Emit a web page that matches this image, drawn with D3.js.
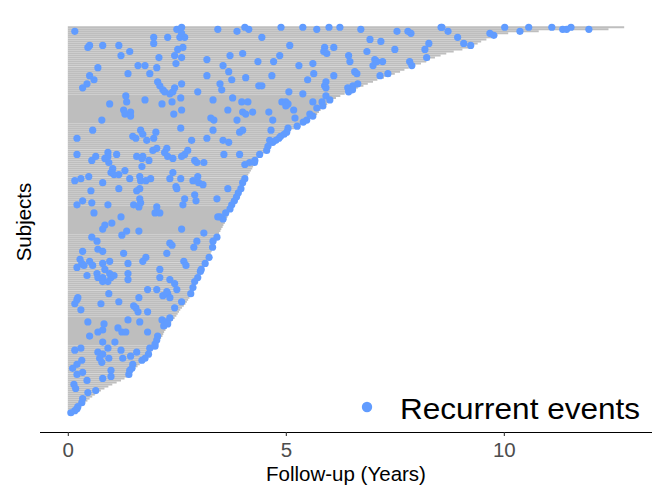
<!DOCTYPE html>
<html><head><meta charset="utf-8">
<script src="https://cdn.jsdelivr.net/npm/d3@7"></script>
<style>body{margin:0;background:#fff} svg{display:block} text{font-family:"Liberation Sans",Arial,Helvetica,sans-serif}</style>
</head><body><svg id="c" width="662" height="500"></svg>
<script>
// follow-up time (years) per subject, ordered top (longest) to bottom (shortest)
const followUp = [
12.76,12.40,10.8,10.1,9.85,9.72,9.6,9.48,9.40,9.30,9.2,9.05,
8.85,8.68,8.55,8.42,8.30,8.22,8.10,7.95,7.82,7.72,7.62,7.50,
7.40,7.25,7.10,7.00,6.88,6.78,6.65,6.55,6.46,6.35,6.25,6.15,
6.06,6.00,5.95,5.90,5.85,5.80,5.76,5.72,5.68,5.60,5.50,5.42,
5.35,5.28,5.20,5.12,5.05,4.98,4.91,4.86,4.80,4.74,4.70,4.66,
4.62,4.58,4.50,4.42,4.38,4.35,4.33,4.30,4.28,4.25,4.23,4.20,
4.17,4.14,4.12,4.10,4.07,4.05,4.02,4.00,3.98,3.95,3.92,3.90,
3.88,3.85,3.83,3.80,3.78,3.76,3.74,3.72,3.70,3.68,3.66,3.64,
3.62,3.60,3.57,3.55,3.52,3.50,3.47,3.45,3.43,3.42,3.40,3.38,
3.36,3.34,3.32,3.30,3.28,3.27,3.25,3.22,3.19,3.16,3.13,3.10,
3.07,3.05,3.03,3.01,2.99,2.97,2.95,2.93,2.92,2.90,2.89,2.87,
2.84,2.82,2.79,2.76,2.73,2.70,2.66,2.62,2.58,2.55,2.52,2.49,
2.45,2.41,2.37,2.33,2.30,2.27,2.24,2.21,2.19,2.17,2.14,2.11,
2.08,2.05,2.02,1.98,1.94,1.91,1.87,1.83,1.79,1.74,1.70,1.65,
1.60,1.55,1.50,1.45,1.41,1.37,1.30,1.22,1.12,1.02,0.93,0.84,
0.76,0.68,0.62,0.56,0.50,0.45,0.40,0.34,0.28,0.22,0.16,0.09];

// recurrent events: [subject row (0 = top), time in years]
const events = [
[2,0.16],[5,1.97],[5,2.29],[1,2.50],[0,2.61],[5,2.57],[5,2.68],[3,2.61],[1,3.44],[2,3.88],[0,4.06],[1,4.15],
[8,1.97],[10,0.46],[9,0.50],[9,0.80],[9,1.17],[14,1.22],[12,1.42],[15,2.09],[14,2.45],[11,2.52],[10,2.64],[15,2.61],[18,2.48],[16,3.19],[14,3.72],[13,4.01],[19,3.56],[17,4.36],
[20,0.69],[24,0.50],[19,1.61],[19,1.77],[20,2.04],[23,1.38],[23,1.88],[26,0.60],[28,0.44],[30,0.34],[27,2.06],[29,2.11],[31,2.18],[32,2.22],[33,2.34],[32,2.41],[30,2.45],[28,2.61],[24,3.19],[22,3.69],[26,3.76],[25,4.08],[28,3.49],[31,3.53],[32,2.98],[29,4.38],
[34,1.33],[37,1.35],[38,0.96],[36,1.77],[38,2.16],[37,2.39],[35,2.59],[36,3.33],[35,3.78],[37,3.99],[37,4.13],
[41,1.28],[43,1.31],[42,1.44],[44,1.44],[46,0.78],[43,2.43],[41,2.61],[45,3.28],[46,3.35],[41,3.67],[42,4.01],[43,4.08],[42,4.24],[46,3.88],
[51,0.57],[50,2.59],[51,1.67],[53,1.72],[54,1.49],[55,1.56],[56,1.81],[55,1.97],[52,2.02],[51,3.33],[52,3.94],[51,4.01],[55,3.19],[56,2.84],[56,3.56],[57,3.69],[55,0.21],
[60,2.04],[61,1.95],[60,2.27],[62,2.22],[63,2.68],[61,2.75],[63,0.21],[64,0.64],[62,0.92],[64,0.92],[63,1.12],[64,1.58],[64,1.72],[63,3.58],[63,3.94],
[0,4.89],[0,5.39],[1,5.71],[0,5.99],[0,6.24],[1,6.72],[2,7.55],[2,7.80],[3,7.87],[0,8.56],[2,8.72],
[5,4.45],[9,5.09],[10,6.10],[6,6.93],[7,7.18],[12,6.86],[11,7.50],[8,8.28],[11,8.19],[10,5.89],[12,5.87],[13,5.94],[14,4.86],[14,6.44],[17,6.47],[16,7.04],[17,7.09],[19,7.00],[17,7.22],[15,8.23],
[17,4.72],[19,5.30],[18,5.62],[17,7.84],[19,7.89],
[24,4.68],[23,5.64],[26,5.50],[24,6.10],[22,6.58],[23,6.63],[24,7.16],[23,7.34],
[29,4.45],[27,5.92],[29,5.89],[30,5.92],[30,6.42],[29,6.54],[28,6.65],[32,6.44],[31,6.53],
[32,5.07],[33,5.39],[34,5.92],[37,4.91],[37,5.00],[38,5.05],[39,5.00],[37,5.62],[37,5.83],[39,5.85],[36,6.01],
[40,5.71],[41,5.18],[42,4.61],[43,5.55],[44,5.62],[46,4.70],[45,5.21],[46,5.48],[47,5.40],[49,5.26],
[51,4.66],[50,5.05],[52,5.02],[53,4.96],[54,4.88],[55,4.84],[56,4.63],[57,4.70],[59,4.59],[61,4.56],[56,4.77],[63,4.40],
[0,8.58],[5,8.94],[8,9.08],[9,9.24],[3,9.68],[4,9.77],[0,10.02],[2,10.37],[0,10.57],[0,11.10],[1,11.35],[1,11.44],[0,11.54],[1,11.95],
[66,0.55],[65,0.85],[67,0.94],[65,1.70],[66,1.86],[64,2.29],[65,2.41],[64,2.61],[66,2.91],[67,2.96],[67,3.12],[68,4.06],[67,4.17],[66,4.29],[67,4.28],
[70,1.03],[73,1.06],[72,0.99],[71,1.31],[69,1.70],[73,1.17],[76,0.16],[75,0.30],[74,0.48],[75,1.42],[74,1.65],[76,1.67],[76,1.79],[75,1.90],[77,0.80],[75,2.34],[72,2.41],[75,2.59],[76,2.87],[74,2.98],[77,3.00],[78,3.10],[79,2.48],[80,2.50],[81,0.53],[80,1.17],[81,1.58],[80,1.65],[80,3.67],
[75,4.06],[77,4.01],[80,3.97],[82,3.91],[84,3.87],[86,3.82],[88,3.76],[90,3.72],[92,3.62],[95,3.56],[94,3.49],[94,3.44],
[86,0.34],[88,0.21],[87,0.55],[88,0.92],[88,1.51],[89,1.63],[87,1.67],[85,1.65],[89,2.04],[92,2.00],[88,2.64],[85,2.68],[83,2.91],[86,2.94],[85,3.42],
[92,0.60],[94,1.22],[92,2.11],[98,0.85],[100,0.80],[97,1.01],[101,1.35],[101,1.63],[103,1.24],[100,2.61],[104,0.55],[106,0.67],[102,3.12],[104,3.42],[106,3.33],[109,3.32],[107,2.34],[108,2.39],[109,2.89],[106,2.96],
[111,0.34],[110,0.69],[111,0.80],[112,1.28],[112,2.27],[114,1.79],
[114,3.24],[117,3.15],[120,3.06],[121,3.04],[124,2.98],[126,2.91],[129,2.87],
[115,0.28],[117,0.32],[119,0.21],[118,0.37],[116,0.50],[118,0.57],[116,0.96],[117,0.80],[120,0.85],[117,1.38],[116,1.72],[116,2.66],[118,2.71],[120,2.11],
[123,0.44],[122,0.67],[124,0.69],[126,0.80],[124,0.80],[122,0.96],[124,0.99],[123,1.06],[122,1.38],[125,1.38],[124,2.11],[125,2.34],[127,2.45],[126,0.92],[130,1.83],[130,2.04],[130,2.50],
[132,0.94],[134,1.63],[133,2.18],[132,2.29],[134,2.34],[131,2.27],[132,2.82],[136,2.61],[137,0.16],[135,0.21],[134,0.23],[137,0.76],[136,1.17],[138,1.51],[139,1.56],[141,1.61],[140,0.30],[141,1.83],[139,2.45],
[146,0.46],[147,0.83],[145,1.38],[146,1.65],[145,2.16],[146,2.25],[148,2.20],[144,2.34],[147,2.29],
[149,1.15],[151,1.24],[151,1.33],[151,0.69],[150,0.80],[153,0.50],[151,1.83],[153,2.06],[155,2.04],[157,2.00],[156,0.80],[156,1.08],[158,2.00],
[160,0.16],[159,0.30],[161,0.69],[162,0.80],[159,0.92],[160,1.22],[159,1.88],[162,1.85],
[167,0.21],[165,0.32],[164,0.73],[166,0.78],[164,0.94],[164,1.26],[163,1.44],[161,1.58],[165,1.70],[164,1.77],[167,1.49],[169,1.47],[170,1.42],[172,1.40],
[169,0.11],[172,0.21],[171,0.34],[170,0.99],[174,0.80],[173,0.99],[175,0.44],[177,0.14],[179,0.18],[181,0.46],[180,0.64],[184,0.34],[186,0.32],[188,0.23],[189,0.21],[190,0.16],[191,0.07]
];

const xTicks = [0, 5, 10];
const xTitle = "Follow-up (Years)";
const yTitle = "Subjects";
const legendLabel = "Recurrent events";

const lineColor = "#BEBEBE";
const pointColor = "#619CFF";

const svg = d3.select("#c");
const panel = {left: 40, right: 652, top: 8, bottom: 432};

const maxT = d3.max(followUp);
const ex = maxT * 0.05;
const x = d3.scaleLinear().domain([-ex, maxT + ex]).range([panel.left, panel.right]);
const n = followUp.length;
const ey = (n - 1) * 0.05;
const y = d3.scaleLinear().domain([-ey, n - 1 + ey]).range([panel.top, panel.bottom]);

// subject lines
svg.append("g").selectAll("line").data(followUp).join("line")
  .attr("x1", x(0)).attr("x2", d => x(d))
  .attr("y1", (d, i) => y(i)).attr("y2", (d, i) => y(i))
  .attr("stroke", lineColor).attr("stroke-width", 2.0);

// events
svg.append("g").selectAll("circle").data(events).join("circle")
  .attr("cx", d => x(d[1])).attr("cy", d => y(d[0]))
  .attr("r", 3.6).attr("fill", pointColor);

// x axis
const ax = svg.append("g").attr("transform", `translate(0,${panel.bottom})`)
  .call(d3.axisBottom(x).tickValues(xTicks).tickSize(4).tickPadding(6).tickFormat(d3.format("d")));
ax.select(".domain").attr("d", `M${panel.left},0.5H${panel.right}`).attr("stroke", "#000").attr("stroke-width", 1.2);
ax.selectAll(".tick line").attr("stroke", "#333").attr("stroke-width", 1.1);
ax.selectAll(".tick text").attr("fill", "#4D4D4D").attr("font-size", 20.5)
  .style("font-family", '"Liberation Sans",Arial,sans-serif');

// axis titles
svg.append("text").attr("x", (panel.left + panel.right) / 2).attr("y", 481)
  .attr("text-anchor", "middle").attr("font-size", 20.5).attr("fill", "#000").text(xTitle);
svg.append("text").attr("transform", `translate(31,${(panel.top + panel.bottom) / 2 + 2}) rotate(-90)`)
  .attr("text-anchor", "middle").attr("font-size", 20.5).attr("fill", "#000").text(yTitle);

// legend
svg.append("circle").attr("cx", 367).attr("cy", 407).attr("r", 5.2).attr("fill", pointColor);
svg.append("text").attr("x", 400).attr("y", 419).attr("font-size", 29)
  .attr("textLength", 240).attr("lengthAdjust", "spacingAndGlyphs").attr("fill", "#000").text(legendLabel);
</script></body></html>
